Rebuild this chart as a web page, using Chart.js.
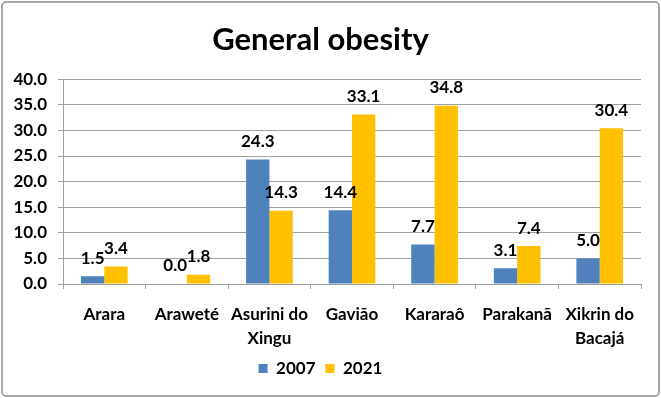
<!DOCTYPE html>
<html>
<head>
<meta charset="utf-8">
<script src="https://cdn.jsdelivr.net/npm/chart.js@4/dist/chart.umd.min.js"></script>
<style>
  html, body { margin: 0; padding: 0; background: #fff; }
  #wrap { width: 661px; height: 398px; position: relative; }
</style>
</head>
<body>
<div id="wrap"><canvas id="obesityChart"></canvas></div>
<script>
const categories = [
  "Arara",
  "Araweté",
  ["Asurini do", "Xingu"],
  "Gavião",
  "Kararaô",
  "Parakanã",
  ["Xikrin do", "Bacajá"],
];
const values2007 = [1.5, 0.0, 24.3, 14.4, 7.7, 3.1, 5.0];
const values2021 = [3.4, 1.8, 14.3, 33.1, 34.8, 7.4, 30.4];
const yTicks = [0, 5, 10, 15, 20, 25, 30, 35, 40];

const fontFamily = "Lato, 'Liberation Sans', sans-serif";

const frame = {
  id: "frame",
  beforeDraw(chart) {
    const ctx = chart.ctx;
    ctx.save();
    ctx.fillStyle = "#fff";
    ctx.fillRect(0, 0, chart.width, chart.height);
    ctx.strokeStyle = "#8c8c8c";
    ctx.lineWidth = 1.5;
    ctx.beginPath();
    ctx.roundRect(2, 2, chart.width - 4, chart.height - 4, 4);
    ctx.stroke();
    ctx.restore();
  },
};

// value labels sit a little above each bar, like the Excel original
const barLabels = {
  id: "barLabels",
  afterDatasetsDraw(chart) {
    const ctx = chart.ctx;
    ctx.save();
    ctx.font = "bold 17px " + fontFamily;
    ctx.fillStyle = "#000";
    ctx.textAlign = "center";
    ctx.textBaseline = "middle";
    chart.data.datasets.forEach((ds, i) => {
      chart.getDatasetMeta(i).data.forEach((bar, j) => {
        ctx.fillText(ds.data[j].toFixed(1), bar.x, bar.y - 18);
      });
    });
    ctx.restore();
  },
};

const ctx = document.getElementById("obesityChart").getContext("2d");

const obesityChart = new Chart(ctx, {
  type: "bar",
  data: {
    labels: categories,
    datasets: [
      {
        label: "2007",
        data: values2007,
        backgroundColor: "#4F81BD",
        categoryPercentage: 0.565,
        barPercentage: 1.0,
      },
      {
        label: "2021",
        data: values2021,
        backgroundColor: "#FFC000",
        categoryPercentage: 0.565,
        barPercentage: 1.0,
      },
    ],
  },
  options: {
    responsive: true,
    maintainAspectRatio: false,
    animation: false,
    layout: {
      padding: { left: 0, right: 20, top: 0, bottom: 11 },
    },
    scales: {
      x: {
        grid: {
          drawOnChartArea: false,
          drawTicks: true,
          tickLength: 5,
          color: "#a0a0a0",
        },
        border: { color: "#a0a0a0" },
        ticks: {
          color: "#000",
          font: { family: fontFamily, size: 17, weight: "bold", lineHeight: 1.4 },
          padding: 14,
          maxRotation: 0,
          autoSkip: false,
        },
        afterFit(scale) {
          scale.height = 66;
        },
      },
      y: {
        min: 0,
        max: 40,
        afterBuildTicks(scale) {
          scale.ticks = yTicks.map((v) => ({ value: v }));
        },
        grid: {
          color: "#a0a0a0",
          tickLength: 5,
        },
        border: { color: "#a0a0a0" },
        ticks: {
          color: "#000",
          font: { family: fontFamily, size: 17, weight: "bold" },
          padding: 11,
          callback: (v) => Number(v).toFixed(1),
        },
        afterFit(scale) {
          scale.width = 63;
        },
      },
    },
    plugins: {
      title: {
        display: true,
        text: "General obesity",
        color: "#000",
        font: { family: fontFamily, size: 31, weight: "bold" },
        padding: { top: 21, bottom: 21 },
      },
      legend: {
        display: true,
        position: "bottom",
        labels: {
          color: "#000",
          boxWidth: 9,
          boxHeight: 9,
          padding: 10,
          font: { family: fontFamily, size: 17, weight: "bold" },
        },
        onClick: null,
      },
      tooltip: { enabled: false },
    },
  },
  plugins: [frame, barLabels],
});
</script>
</body>
</html>
